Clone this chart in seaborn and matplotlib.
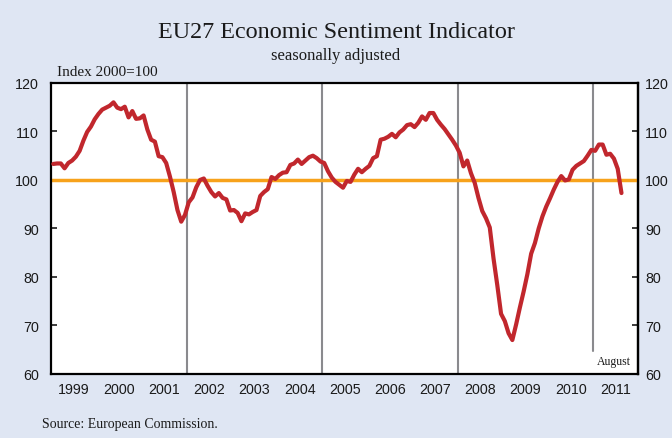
import pandas as pd
import matplotlib
matplotlib.use("Agg")
import matplotlib.pyplot as plt
import seaborn as sns

# monthly ESI values, Jan..Dec (2011 ends in August)
esi_1999 = [103.3, 103.4, 103.4, 102.4, 103.5, 104.0, 104.8, 106.0, 108.1, 109.9, 111.0, 112.5]
esi_2000 = [113.6, 114.5, 114.9, 115.3, 116.0, 114.9, 114.6, 115.1, 112.9, 114.2, 112.6, 112.7]
esi_2001 = [113.3, 110.4, 108.3, 107.9, 104.9, 104.7, 103.5, 100.7, 97.5, 93.8, 91.4, 92.8]
esi_2002 = [95.4, 96.4, 98.5, 100.0, 100.3, 98.8, 97.5, 96.6, 97.3, 96.3, 96.0, 93.7]
esi_2003 = [93.8, 93.2, 91.5, 93.1, 92.9, 93.4, 93.8, 96.7, 97.5, 98.1, 100.6, 100.2]
esi_2004 = [101.0, 101.5, 101.6, 103.1, 103.4, 104.2, 103.3, 104.0, 104.7, 105.0, 104.5, 103.8]
esi_2005 = [103.5, 101.8, 100.5, 99.6, 99.0, 98.4, 99.8, 99.6, 101.1, 102.3, 101.6, 102.3]
esi_2006 = [102.9, 104.5, 104.9, 108.3, 108.5, 108.9, 109.5, 108.8, 109.8, 110.4, 111.3, 111.5]
esi_2007 = [110.9, 111.8, 113.1, 112.4, 113.8, 113.8, 112.4, 111.4, 110.5, 109.4, 108.3, 107.1]
esi_2008 = [105.6, 102.8, 104.0, 101.4, 99.4, 96.3, 93.6, 92.1, 90.2, 83.8, 78.3, 72.4]
esi_2009 = [70.9, 68.4, 67.0, 70.2, 73.7, 77.0, 80.6, 84.8, 87.0, 90.0, 92.5, 94.5]
esi_2010 = [96.2, 98.0, 99.6, 100.8, 99.9, 100.1, 102.1, 102.9, 103.4, 103.9, 105.0, 106.2]
esi_2011 = [106.0, 107.3, 107.3, 105.2, 105.4, 104.4, 102.3, 97.3]

years = list(range(1999, 2012))
year_labels = [str(y) for y in years]
y_ticks = [60, 70, 80, 90, 100, 110, 120]
divider_years = [2002, 2005, 2008]

series = [esi_1999, esi_2000, esi_2001, esi_2002, esi_2003, esi_2004, esi_2005,
          esi_2006, esi_2007, esi_2008, esi_2009, esi_2010, esi_2011]
rows = []
for yr, vals in zip(years, series):
    for m, v in enumerate(vals):
        rows.append({"date": yr + (m + 0.5) / 12, "esi": v})
df = pd.DataFrame(rows)

bg = "#dfe6f3"
red = "#c1272d"
orange = "#f7a21b"
grey = "#8a8a8e"
ink = "#1a1a1a"

sns.set_style("white")
plt.rcParams["font.family"] = ["Liberation Sans", "DejaVu Sans"]

fig = plt.figure(figsize=(6.72, 4.39), dpi=100, facecolor=bg)
ax = fig.add_axes([0.0765, 0.1458, 0.8735, 0.663])
ax.set_facecolor("white")

for yr in divider_years:
    ax.axvline(yr, color=grey, lw=1.5, zorder=1)
ax.axvline(2011, ymin=0.08, ymax=1, color=grey, lw=1.5, zorder=1)
ax.axhline(100, color=orange, lw=2.5, zorder=2)

sns.lineplot(data=df, x="date", y="esi", color=red, lw=3, ax=ax, zorder=3)

ax.set_xlim(1999, 2012)
ax.set_ylim(60, 120)
ax.set_xlabel("")
ax.set_ylabel("")

# left scale
ax.set_yticks(y_ticks)
ax.set_yticklabels([str(v) for v in y_ticks], fontsize=10.3)
ax.tick_params(axis="y", direction="in", length=4, width=1.2, left=True, right=False,
               labelleft=True, labelright=False, pad=9, colors=ink)

# right scale, same values
sec = ax.secondary_yaxis("right")
sec.set_yticks(y_ticks)
sec.set_yticklabels([str(v) for v in y_ticks], fontsize=10.3)
sec.tick_params(axis="y", direction="in", length=4, width=1.2, pad=5, colors=ink)
sec.spines["right"].set_linewidth(1.6)
sec.spines["right"].set_color("black")

ax.set_xticks(years[1:])
ax.set_xticklabels([])
ax.set_xticks([y + 0.5 for y in years], minor=True)
ax.set_xticklabels(year_labels, minor=True, fontsize=10.3)
ax.tick_params(axis="x", which="major", direction="in", length=4, width=1.2, colors=ink)
ax.tick_params(axis="x", which="minor", length=0, pad=6, colors=ink)

for s in ax.spines.values():
    s.set_color("black")
    s.set_linewidth(1.6)

serif = ["Liberation Serif", "DejaVu Serif"]
fig.text(0.5, 0.927, "EU27 Economic Sentiment Indicator", ha="center", va="center",
         fontsize=17.4, family=serif, color=ink)
fig.text(0.5, 0.873, "seasonally adjusted", ha="center", va="center",
         fontsize=12, family=serif, color=ink)
fig.text(0.085, 0.834, "Index 2000=100", ha="left", va="center",
         fontsize=11, family=serif, color=ink)
fig.text(0.062, 0.032, "Source: European Commission.", ha="left", va="center",
         fontsize=10, family=serif, color=ink)
ax.text(2011.45, 61.5, "August", ha="center", va="bottom", fontsize=8.5,
        family=serif, color=ink)

fig.savefig("out.png", dpi=100, facecolor=bg)
